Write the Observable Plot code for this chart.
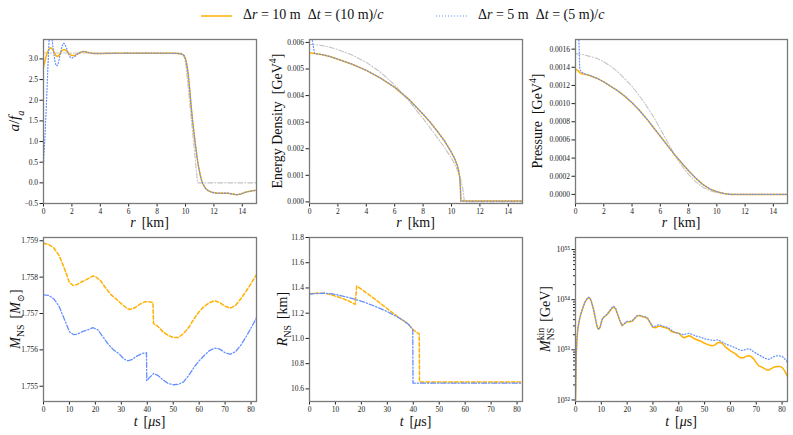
<!DOCTYPE html>
<html>
<head>
<meta charset="utf-8">
<script src="https://cdn.jsdelivr.net/npm/d3@7"></script>
<script src="https://cdn.jsdelivr.net/npm/@observablehq/plot@0.6"></script>
<style>
  body { margin: 0; background: #fff; }
  #fig { position: relative; width: 793px; height: 435px; overflow: hidden; background: #fff; }
  .pan { position: absolute; }
  #legend { position: absolute; left: 0; top: 0; width: 793px; height: 30px; font-family: "Liberation Serif", serif; font-size: 14px; color: #111; }
  #legend span { position: absolute; top: 7px; white-space: pre; }
  #legend svg { position: absolute; }
</style>
</head>
<body>
<div id="fig">
  <div id="legend">
    <svg style="left:201px;top:10px" width="32" height="12"><line x1="0" x2="31" y1="6" y2="6" stroke="#FFB000" stroke-width="1.5"/></svg>
    <span style="left:243px">Δ<i>r</i> = 10 m  Δ<i>t</i> = (10 m)/<i>c</i></span>
    <svg style="left:436px;top:10px" width="32" height="12"><line x1="0" x2="31" y1="6" y2="6" stroke="#648FFF" stroke-width="1.2" stroke-dasharray="1,2"/></svg>
    <span style="left:478px">Δ<i>r</i> = 5 m  Δ<i>t</i> = (5 m)/<i>c</i></span>
  </div>
</div>
<script>
// ---------------- data ----------------
// Panel 1: a/f_a vs r [km]
const rA = [0, 0.1, 0.2, 0.3, 0.4, 0.5, 0.6, 0.7, 0.8, 0.9, 1.0, 1.1, 1.2, 1.3, 1.4, 1.5, 1.6, 1.7, 1.8, 1.9, 2.0,
  2.2, 2.4, 2.6, 2.8, 3.0, 3.2, 3.5, 4, 5, 6, 7, 8, 9, 9.5, 9.7, 9.9,
  10.0, 10.1, 10.2, 10.3, 10.4, 10.5, 10.6, 10.7, 10.8, 10.9, 11.0, 11.1, 11.2,
  11.4, 11.6, 11.8, 12.0, 12.3, 12.6, 13.0, 13.3, 13.6, 13.9, 14.2, 14.6, 15];
const aOrange = [2.80, 2.95, 3.08, 3.18, 3.24, 3.27, 3.25, 3.19, 3.12, 3.07, 3.06, 3.09, 3.15, 3.20, 3.22, 3.22, 3.20, 3.17, 3.13, 3.10, 3.08,
  3.08, 3.12, 3.16, 3.18, 3.17, 3.15, 3.13, 3.13, 3.135, 3.14, 3.14, 3.14, 3.135, 3.13, 3.12, 3.08,
  3.00, 2.85, 2.60, 2.25, 1.85, 1.50, 1.20, 0.92, 0.65, 0.43, 0.25, 0.10, -0.01,
  -0.13, -0.19, -0.22, -0.24, -0.25, -0.25, -0.25, -0.27, -0.29, -0.27, -0.23, -0.20, -0.18];
const aBlue = [0.45, 1.10, 1.85, 2.72, 3.50, 3.62, 3.48, 3.20, 2.95, 2.83, 2.85, 2.98, 3.15, 3.30, 3.38, 3.36, 3.28, 3.18, 3.09, 3.03, 3.02,
  3.06, 3.12, 3.16, 3.18, 3.17, 3.15, 3.13, 3.13, 3.135, 3.14, 3.14, 3.14, 3.135, 3.13, 3.12, 3.08,
  3.00, 2.85, 2.60, 2.25, 1.85, 1.50, 1.20, 0.92, 0.65, 0.43, 0.25, 0.10, -0.01,
  -0.13, -0.19, -0.22, -0.24, -0.25, -0.25, -0.25, -0.27, -0.29, -0.27, -0.23, -0.20, -0.18];
const rAinit = [0, 9.75, 9.85, 9.95, 10.05, 10.85, 15];
const aInit = [3.1416, 3.1416, 3.11, 3.00, 2.80, 0, 0];

// Panel 2: energy density [GeV^4]
const rE = [0, 0.15, 0.25, 0.35, 0.5, 1, 1.5, 2, 3, 4, 5, 6, 7, 8, 8.5, 9, 9.5, 10, 10.2, 10.4, 10.5, 10.58, 10.63, 10.66, 11, 12, 13, 14, 15];
const eOrange = [0.00560, 0.00560, 0.00559, 0.00558, 0.00557, 0.00553, 0.00546, 0.00537, 0.00518, 0.00495, 0.00466, 0.00431, 0.00386, 0.00330,
  0.00300, 0.00266, 0.00230, 0.00186, 0.00165, 0.00139, 0.00118, 0.00092, 0.00050, 0.00003, 0.00003, 0.00003, 0.00003, 0.00003, 0.00003];
const eBlue = [0.00625, 0.00620, 0.00592, 0.00559, 0.00557, 0.00553, 0.00546, 0.00537, 0.00518, 0.00495, 0.00466, 0.00431, 0.00386, 0.00330,
  0.00300, 0.00266, 0.00230, 0.00186, 0.00165, 0.00139, 0.00118, 0.00092, 0.00050, 0.00003, 0.00003, 0.00003, 0.00003, 0.00003, 0.00003];
const rEinit = [0, 0.5, 1, 1.5, 2, 3, 4, 5, 6, 7, 8, 8.5, 9, 9.5, 10, 10.3, 10.6, 10.8, 10.9, 11, 15];
const eInit = [0.00592, 0.00591, 0.00587, 0.00581, 0.00573, 0.00553, 0.00525, 0.00488, 0.00440, 0.00380, 0.00313, 0.00278, 0.00242, 0.00205,
  0.00164, 0.00135, 0.00095, 0.00050, 0.00005, 0, 0];

// Panel 3: pressure [GeV^4]
const rP = [0, 0.2, 0.3, 0.4, 0.6, 1, 1.5, 2, 2.5, 3, 3.5, 4, 4.5, 5, 5.5, 6, 6.5, 7, 7.5, 8, 8.5, 9, 9.5, 10, 10.5, 11, 12, 13, 14, 15];
const pOrange = [0.00138, 0.00136, 0.00134, 0.00133, 0.001325, 0.00131, 0.00128, 0.00124, 0.00119, 0.00114, 0.00108, 0.00101, 0.00093, 0.00084,
  0.00074, 0.00064, 0.00054, 0.00044, 0.00035, 0.00026, 0.00018, 0.00011, 0.00006, 0.00003, 0.00001, 0, 0, 0, 0, 0];
const pBlue = [0.00190, 0.00190, 0.00138, 0.00135, 0.00133, 0.00131, 0.00128, 0.00124, 0.00119, 0.00114, 0.00108, 0.00101, 0.00093, 0.00084,
  0.00074, 0.00064, 0.00054, 0.00044, 0.00035, 0.00026, 0.00018, 0.00011, 0.00006, 0.00003, 0.00001, 0, 0, 0, 0, 0];
const rPinit = [0, 0.5, 1, 1.5, 2, 2.5, 3, 3.5, 4, 4.5, 5, 5.5, 6, 6.5, 7, 7.5, 8, 8.5, 9, 9.5, 10, 10.5, 11, 15];
const pInit = [0.00155, 0.00154, 0.00152, 0.00150, 0.00146, 0.00141, 0.00135, 0.00127, 0.00119, 0.00109, 0.00098, 0.00086, 0.00072, 0.00058,
  0.00044, 0.00032, 0.00022, 0.00014, 0.00008, 0.00004, 0.00002, 0.00001, 0, 0];

// Panel 4: M_NS [M_sun] vs t [us]
const tMOrange = [0, 2, 4, 6, 8, 10, 11.5, 13, 15, 17, 19, 20, 22, 24, 26, 28, 30, 32, 33, 35, 37, 39, 41, 42.2, 42.4,
  44, 46, 48, 50, 52, 54, 56, 58, 60, 62, 64, 66, 68, 70, 72, 74, 76, 78, 80, 82.1];
const mOrange = [1.75893, 1.75890, 1.75880, 1.75860, 1.75825, 1.75785, 1.75777, 1.75780, 1.75788, 1.75795, 1.75803, 1.75802,
  1.75790, 1.75770, 1.75752, 1.75740, 1.75727, 1.75715, 1.75711, 1.75715, 1.75725, 1.75732, 1.75732, 1.75730, 1.75672,
  1.75665, 1.75650, 1.75640, 1.75634, 1.75634, 1.75645, 1.75662, 1.75685, 1.75705, 1.75720, 1.75730, 1.75735, 1.75730,
  1.75720, 1.75715, 1.75722, 1.75740, 1.75760, 1.75782, 1.75807];
const tMBlue = [0, 2, 4, 6, 8, 10, 11.5, 13, 15, 17, 19, 21, 23, 25, 27, 29, 31, 32.5, 34, 36, 38, 39.7, 39.8,
  41, 42.5, 44, 46, 48, 50, 52, 54, 56, 58, 60, 62, 64, 66, 68, 70, 72, 74, 76, 78, 80, 82.1];
const mBlue = [1.75751, 1.75750, 1.75740, 1.75720, 1.75685, 1.75650, 1.75642, 1.75643, 1.75650, 1.75655, 1.75661, 1.75655,
  1.75635, 1.75615, 1.75600, 1.75590, 1.75575, 1.75570, 1.75573, 1.75583, 1.75590, 1.75592, 1.75515,
  1.75525, 1.75535, 1.75530, 1.75518, 1.75508, 1.75504, 1.75505, 1.75512, 1.75530, 1.75552, 1.75570, 1.75585,
  1.75598, 1.75605, 1.75602, 1.75592, 1.75588, 1.75595, 1.75612, 1.75635, 1.75660, 1.75688];

// Panel 5: R_NS [km] vs t [us]
const tROrange = [0, 3, 6, 9, 12, 15, 17.6, 17.7, 18.2, 20, 25, 30, 35, 38, 40, 42.3, 42.4, 82.1];
const rOrange = [11.355, 11.358, 11.358, 11.342, 11.322, 11.298, 11.270, 11.300, 11.415, 11.390, 11.315, 11.235, 11.157, 11.115, 11.068, 11.035, 10.655, 10.655];
const tRBlue = [0, 3, 6, 9, 12, 15, 18, 21, 24, 27, 30, 33, 36, 38, 39.8, 39.9, 82.1];
const rBlue = [11.352, 11.356, 11.358, 11.352, 11.340, 11.325, 11.307, 11.288, 11.265, 11.240, 11.212, 11.180, 11.145, 11.115, 11.070, 10.645, 10.645];

// Panel 6: M_NS^kin [GeV] vs t [us]; values stored as log10 exponents
const tK = [0, 0.3, 0.6, 1, 1.5, 2, 2.5, 3, 3.5, 4, 4.5, 5, 5.5, 6, 6.5, 7, 7.5, 8, 8.5, 9,
  9.5, 10, 10.5, 11, 12, 13, 14, 14.7, 15.5, 16, 17, 18,
  19, 20, 21, 22, 23, 24, 25, 26, 27, 28, 29, 30, 31, 32, 33, 34, 35, 36, 37, 38,
  39, 40, 41, 42, 43, 44, 45, 46, 47, 48, 49, 50, 51, 52, 53, 54, 55, 56, 57, 58,
  59, 60, 61, 62, 63, 64, 65, 66, 67, 68, 69, 70, 71, 72, 73, 74, 75, 76, 77, 78,
  79, 80, 81, 82.1];
const kOrangeExp = [52.0, 52.9, 53.25, 53.45, 53.6, 53.7, 53.78, 53.86, 53.93, 53.98, 54.02, 54.04, 54.03, 53.98, 53.9, 53.8, 53.68, 53.55, 53.44, 53.41,
  53.45, 53.55, 53.62, 53.65, 53.69, 53.75, 53.82, 53.85, 53.82, 53.75, 53.6, 53.48,
  53.52, 53.56, 53.56, 53.57, 53.63, 53.68, 53.68, 53.66, 53.65, 53.62, 53.53, 53.45, 53.44, 53.47, 53.47, 53.45, 53.44, 53.42, 53.37, 53.35,
  53.34, 53.33, 53.28, 53.24, 53.26, 53.28, 53.26, 53.22, 53.20, 53.18, 53.16, 53.13, 53.11, 53.09, 53.08, 53.10, 53.14, 53.15, 53.12, 53.06,
  53.02, 52.98, 52.95, 52.92, 52.87, 52.84, 52.84, 52.87, 52.88, 52.87, 52.82, 52.74, 52.68, 52.66, 52.63, 52.60, 52.60, 52.63, 52.66, 52.67,
  52.67, 52.65, 52.58, 52.47];
const kBlueExp = [52.0, 52.9, 53.25, 53.45, 53.6, 53.7, 53.78, 53.86, 53.93, 53.98, 54.02, 54.05, 54.04, 53.99, 53.9, 53.8, 53.68, 53.55, 53.44, 53.41,
  53.45, 53.55, 53.63, 53.66, 53.70, 53.77, 53.84, 53.87, 53.84, 53.76, 53.61, 53.49,
  53.53, 53.57, 53.57, 53.58, 53.64, 53.69, 53.69, 53.67, 53.66, 53.63, 53.54, 53.46, 53.47, 53.50, 53.49, 53.47, 53.46, 53.44, 53.40, 53.36,
  53.34, 53.33, 53.31, 53.30, 53.32, 53.33, 53.31, 53.29, 53.27, 53.26, 53.24, 53.22, 53.21, 53.20, 53.19, 53.19, 53.20, 53.18, 53.15, 53.12,
  53.10, 53.08, 53.06, 53.04, 53.01, 52.99, 52.99, 53.01, 53.02, 53.00, 52.96, 52.93, 52.90, 52.87, 52.84, 52.82, 52.81, 52.84, 52.87, 52.88,
  52.88, 52.87, 52.82, 52.75];

// tick values
const rTicks = [0, 2, 4, 6, 8, 10, 12, 14];
const tTicks = [0, 10, 20, 30, 40, 50, 60, 70, 80];
const aTicks = [-0.5, 0.0, 0.5, 1.0, 1.5, 2.0, 2.5, 3.0];
const eTicks = [0, 0.001, 0.002, 0.003, 0.004, 0.005, 0.006];
const pTicks = [0, 0.0002, 0.0004, 0.0006, 0.0008, 0.0010, 0.0012, 0.0014, 0.0016];
const mTicks = [1.755, 1.756, 1.757, 1.758, 1.759];
const RTicks = [10.6, 10.8, 11.0, 11.2, 11.4, 11.6, 11.8];
const kTicks = [1e52, 1e53, 1e54, 1e55];
const kMinorMult = [2, 3, 4, 5, 6, 7, 8, 9];

// ---------------- drawing ----------------
const ORANGE = "#FFB000", BLUE = "#648FFF", GREY = "#c4c4c4";
const SERIF = "'Liberation Serif', 'DejaVu Serif', serif";
const fig = document.getElementById("fig");
const pts = (xs, ys) => xs.map((x, i) => ({x, y: ys[i]}));

const solid = {stroke: ORANGE, strokeWidth: 1.5};
const dotted = {stroke: BLUE, strokeWidth: 1.2, strokeDasharray: "1,2"};
const initStyle = {stroke: GREY, strokeWidth: 1.1, strokeDasharray: "5,2,1,2"};
const dashed = {stroke: ORANGE, strokeWidth: 1.5, strokeDasharray: "3.5,2.2"};
const dashdot = {stroke: BLUE, strokeWidth: 1.3, strokeDasharray: "5,2,1.2,2"};

const line = (data, style) => Plot.line(data, {x: "x", y: "y", clip: true, ...style});

function panel(c) {
  const div = document.createElement("div");
  div.className = "pan";
  div.style.left = c.left + "px";
  div.style.top = c.top + "px";
  fig.appendChild(div);
  const yOpts = {domain: c.yd, tickSize: 3.5, tickPadding: 2, label: null};
  if (c.yType) yOpts.type = c.yType;
  if (c.yt) { yOpts.ticks = c.yt; yOpts.tickFormat = c.yf; }
  const svg = Plot.plot({
    width: c.w, height: c.h,
    marginLeft: c.ml, marginRight: c.mr, marginTop: c.mt, marginBottom: c.mb,
    style: {fontFamily: SERIF, fontSize: "7.5px", color: "#222", background: "transparent", overflow: "visible"},
    x: {domain: c.xd, ticks: c.xt, tickSize: 3.5, tickPadding: 2, label: null, tickFormat: d => String(d)},
    y: yOpts,
    marks: [...c.marks, Plot.frame({stroke: "#7a7a7a", strokeWidth: 1.3})]
  });
  div.appendChild(svg);
  return svg;
}

function label(svg, x, y, parts, rotate, size = 14) {
  const t = d3.select(svg).append("text")
    .attr("transform", `translate(${x},${y})` + (rotate ? " rotate(-90)" : ""))
    .attr("text-anchor", "middle")
    .attr("font-family", SERIF)
    .attr("font-size", size)
    .attr("fill", "#111");
  let shift = 0, lastLen = 0;
  for (const p of parts) {
    const ts = t.append("tspan").text(p.t);
    if (p.i) ts.attr("font-style", "italic");
    const target = p.sub ? 0.3 * size : p.sup ? -0.42 * size : 0;
    const dy = target - shift;
    if (dy) ts.attr("dy", dy);
    shift = target;
    if (p.sub || p.sup) ts.attr("font-size", size * 0.7);
    let dx = p.dx || 0;
    if (p.back) dx -= lastLen;
    if (dx) ts.attr("dx", dx);
    lastLen = ts.node().getComputedTextLength();
  }
}

const TOP = {top: 30, h: 200, mt: 9, mb: 27};
const BOT = {top: 228, h: 207, mt: 9, mb: 34};
const C1 = {left: 0, w: 263, ml: 43, mr: 7};
const C2 = {left: 263, w: 267, ml: 46, mr: 8};
const C3 = {left: 530, w: 263, ml: 45, mr: 6};

const rLabel = [{t: "r", i: true}, {t: "[km]", dx: 6}];
const tLabel = [{t: "t", i: true}, {t: "[", dx: 6}, {t: "μ", i: true}, {t: "s]"}];

// Panel 1
let s = panel({...TOP, ...C1, xd: [0, 15], xt: rTicks, yd: [-0.5, 3.47], yt: aTicks, yf: d3.format(".1f"),
  marks: [line(pts(rAinit, aInit), initStyle), line(pts(rA, aOrange), solid), line(pts(rA, aBlue), dotted)]});
label(s, 19, 91, [{t: "a", i: true}, {t: "/"}, {t: "f", i: true}, {t: "a", i: true, sub: true}], true, 15);
label(s, 149.5, 197, rLabel, false);

// Panel 2
s = panel({...TOP, ...C2, xd: [0, 15], xt: rTicks, yd: [-0.00006, 0.00611], yt: eTicks, yf: d3.format(".3f"),
  marks: [line(pts(rEinit, eInit), initStyle), line(pts(rE, eOrange), solid), line(pts(rE, eBlue), dotted)]});
label(s, 19, 91, [{t: "Energy Density  [GeV"}, {t: "4", sup: true}, {t: "]"}], true);
label(s, 152.5, 197, rLabel, false);

// Panel 3
s = panel({...TOP, ...C3, xd: [0, 15], xt: rTicks, yd: [-0.0001, 0.001706], yt: pTicks, yf: d3.format(".4f"),
  marks: [line(pts(rPinit, pInit), initStyle), line(pts(rP, pOrange), solid), line(pts(rP, pBlue), dotted)]});
label(s, 12, 91, [{t: "Pressure  [GeV"}, {t: "4", sup: true}, {t: "]"}], true);
label(s, 151, 197, rLabel, false);

// Panel 4
s = panel({...BOT, ...C1, xd: [0, 82.1], xt: tTicks, yd: [1.75458, 1.75909], yt: mTicks, yf: d3.format(".3f"),
  marks: [line(pts(tMOrange, mOrange), dashed), line(pts(tMBlue, mBlue), dashdot)]});
label(s, 20, 91, [{t: "M", i: true}, {t: "NS", sub: true}, {t: "[", dx: 6}, {t: "M", i: true}, {t: "⊙", sub: true}, {t: "]"}], true);
label(s, 149.5, 198, tLabel, false);

// Panel 5
s = panel({...BOT, ...C2, xd: [0, 82.1], xt: tTicks, yd: [10.5, 11.8], yt: RTicks, yf: d3.format(".1f"),
  marks: [line(pts(tROrange, rOrange), dashed), line(pts(tRBlue, rBlue), dashdot)]});
label(s, 24, 91, [{t: "R", i: true}, {t: "NS", sub: true}, {t: "[km]", dx: 6}], true);
label(s, 152.5, 198, tLabel, false);

// Panel 6 (log)
const supDigits = {"0": "⁰", "1": "¹", "2": "²", "3": "³", "4": "⁴", "5": "⁵", "6": "⁶", "7": "⁷", "8": "⁸", "9": "⁹"};
const supFmt = d => "10" + String(Math.round(Math.log10(d))).split("").map(c => supDigits[c]).join("");
const kMinor = kTicks.slice(0, 3).flatMap(p => kMinorMult.map(m => m * p));
const kData = (exps) => tK.map((t, i) => ({x: t, y: Math.pow(10, exps[i])}));
s = panel({...BOT, ...C3, xd: [0, 82.1], xt: tTicks, yd: [Math.pow(10, 51.97), Math.pow(10, 55.24)], yType: "log",
  marks: [
    Plot.axisY(kTicks, {tickSize: 3.5, tickPadding: 2, tickFormat: supFmt, label: null, fontSize: 8}),
    Plot.axisY(kMinor, {tickSize: 2, tickFormat: () => "", label: null}),
    line(kData(kOrangeExp), solid), line(kData(kBlueExp), dotted)
  ]});
label(s, 20, 91, [{t: "M", i: true}, {t: "kin", sup: true}, {t: "NS", sub: true, back: true}, {t: "[GeV]", dx: 6}], true);
label(s, 151, 198, tLabel, false);
</script>
</body>
</html>
